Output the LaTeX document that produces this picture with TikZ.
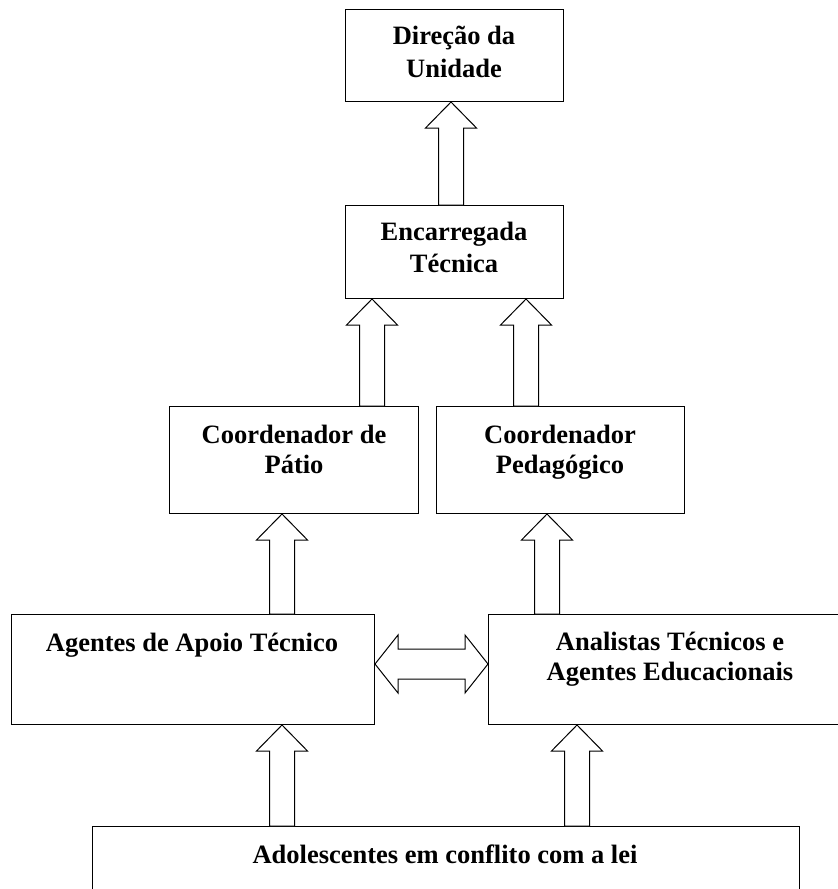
\documentclass[tikz,border=0pt]{standalone}
\usepackage{fontspec}
\setmainfont{Liberation Serif}
\usetikzlibrary{calc}
\tikzset{
  box/.style={draw=black, line width=1pt, inner sep=0pt, anchor=north west, fill=white},
  lbl/.style={anchor=base, inner sep=0pt, font=\fontsize{26.5}{33}\selectfont\bfseries},
  blk/.style={draw=black, fill=white, line width=1pt, line join=miter}
}
% vertical block arrow: #1 = x, #2 = start anchor (bottom), #3 = end anchor (tip)
\newcommand\upblock[3]{%
  \draw[blk] let \p1=(#2), \p2=(#3) in
    ({#1pt-12.5pt},\y1) -- ({#1pt-12.5pt},\y2-26pt) -- ({#1pt-25.5pt},\y2-26pt)
    -- ({#1pt},\y2) -- ({#1pt+25.5pt},\y2-26pt) -- ({#1pt+12.5pt},\y2-26pt)
    -- ({#1pt+12.5pt},\y1) -- cycle;}
\begin{document}
\begin{tikzpicture}[x=1pt,y=-1pt]
\useasboundingbox (0,0) rectangle (838,889);
\clip (0,0) rectangle (838,889);
% boxes
\node[box, minimum width=218pt, minimum height=92pt]  (dir)  at (345,9) {};
\node[box, minimum width=218pt, minimum height=93pt]  (enc)  at (345,205) {};
\node[box, minimum width=249pt, minimum height=107pt] (cpat) at (169,406) {};
\node[box, minimum width=248pt, minimum height=107pt] (cped) at (436,406) {};
\node[box, minimum width=363pt, minimum height=110pt] (agt)  at (11,614) {};
\node[box, minimum width=364pt, minimum height=110pt] (ana)  at (488,614) {};
\node[box, minimum width=707pt, minimum height=104pt] (ado)  at (92,826) {};
% texts
\node[lbl] (dirA) at (454,44) {Direção da};
\node[lbl] (dirB) at (454,77) {Unidade};
\node[lbl] (encA) at (454,240) {Encarregada};
\node[lbl] (encB) at (454,272) {Técnica};
\node[lbl] (cpatA) at (294,443) {Coordenador de};
\node[lbl] (cpatB) at (294,473) {Pátio};
\node[lbl] (cpedA) at (560,443) {Coordenador};
\node[lbl] (cpedB) at (560,473) {Pedagógico};
\node[lbl] (agtA) at (192,651) {Agentes de Apoio Técnico};
\node[lbl] (anaA) at (670,650) {Analistas Técnicos e};
\node[lbl] (anaB) at (670,680) {Agentes Educacionais};
\node[lbl] (adoA) at (445,863) {Adolescentes em conflito com a lei};
% block arrows
\upblock{451}{enc.north}{dir.south}
\upblock{372}{cpat.north}{enc.south}
\upblock{526}{cped.north}{enc.south}
\upblock{282}{agt.north}{cpat.south}
\upblock{547}{ana.north}{cped.south}
\upblock{282}{ado.north}{agt.south}
\upblock{577}{ado.north}{ana.south}
% double horizontal block arrow
\draw[blk] let \p1=(agt.east), \p2=(ana.west) in
  (\x1,664) -- (\x1+23pt,635) -- (\x1+23pt,649) -- (\x2-23pt,649) -- (\x2-23pt,635)
  -- (\x2,664) -- (\x2-23pt,693) -- (\x2-23pt,679) -- (\x1+23pt,679) -- (\x1+23pt,693) -- cycle;
\end{tikzpicture}
\end{document}
